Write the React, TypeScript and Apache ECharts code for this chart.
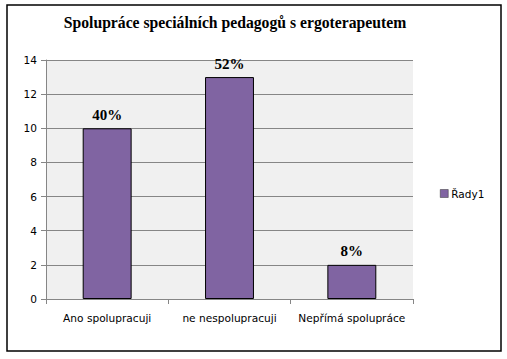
import React, { useEffect, useRef } from "react";
import * as echarts from "echarts";

const categories = ["Ano spolupracuji", "ne nespolupracuji", "Nepřímá spolupráce"];
const values = [10, 13, 2];
const percentLabels = ["40%", "52%", "8%"];
const seriesName = "Řady1";
const titleText = "Spolupráce speciálních pedagogů s ergoterapeutem";

export default function App() {
  const ref = useRef<HTMLDivElement>(null);
  useEffect(() => {
    document.body.style.margin = "0";
    const chart = echarts.init(ref.current!, undefined, { renderer: "svg" });
    chart.setOption({
      animation: false,
      backgroundColor: "#ffffff",
      title: {
        text: titleText,
        left: 230,
        top: 9,
        textAlign: "center",
        textStyle: { fontFamily: "Liberation Serif", fontWeight: "bold", fontSize: 15.7, color: "#000" },
      },
      graphic: [
        {
          type: "rect",
          shape: { x: 7, y: 5, width: 494, height: 346 },
          style: { fill: "none", stroke: "#000", lineWidth: 1.5 },
          z: 100,
        },
      ],
      legend: {
        show: true,
        left: 435,
        top: 183,
        orient: "vertical",
        itemWidth: 8,
        itemHeight: 8,
        itemGap: 4,
        icon: "rect",
        textStyle: { fontFamily: "DejaVu Sans", fontSize: 10.5, color: "#000", padding: [0, 0, 0, -2] },
        data: [{ name: seriesName, itemStyle: { color: "#8064A2", borderColor: "#333", borderWidth: 0.5 } }],
      },
      grid: {
        left: 46,
        top: 60,
        right: 94,
        bottom: 60,
        show: true,
        backgroundColor: "#f0f0f0",
        borderWidth: 0,
      },
      xAxis: {
        type: "category",
        data: categories,
        axisLine: { lineStyle: { color: "#868686" } },
        axisTick: { show: true, length: 5, lineStyle: { color: "#868686" } },
        axisLabel: { interval: 0, fontFamily: "DejaVu Sans", fontSize: 10.6, color: "#000", margin: 13 },
      },
      yAxis: {
        type: "value",
        min: 0,
        max: 14,
        interval: 2,
        axisLine: { show: true, lineStyle: { color: "#868686" } },
        axisTick: { show: true, length: 5, lineStyle: { color: "#868686" } },
        axisLabel: { fontFamily: "DejaVu Sans", fontSize: 10.6, color: "#000", margin: 9 },
        splitLine: { lineStyle: { color: "#868686", width: 1 } },
      },
      series: [
        {
          name: seriesName,
          type: "bar",
          data: values,
          barWidth: "40%",
          itemStyle: { color: "#8064A2", borderColor: "#000", borderWidth: 1 },
          label: {
            show: true,
            position: "top",
            distance: 6,
            formatter: (p: any) => percentLabels[p.dataIndex],
            fontFamily: "Liberation Serif",
            fontWeight: "bold",
            fontSize: 15,
            color: "#000",
          },
        },
      ],
    });
    return () => chart.dispose();
  }, []);
  return <div ref={ref} style={{ position: "fixed", left: 0, top: 0, width: 507, height: 359 }} />;
}
